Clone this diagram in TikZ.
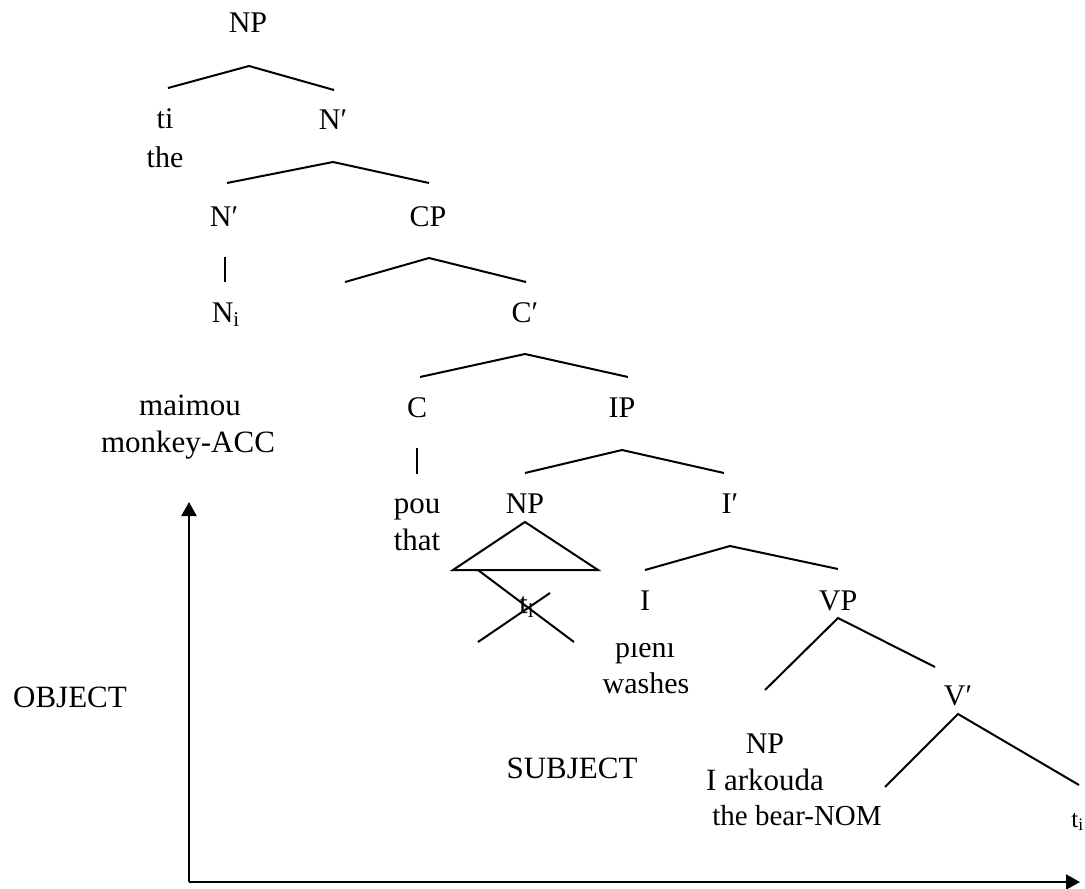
\documentclass[tikz,border=0pt]{standalone}
\usepackage{fontspec}
\setmainfont{Liberation Serif}
\usetikzlibrary{arrows.meta}
\begin{document}
\begin{tikzpicture}[x=0.5pt,y=-0.5pt,
	every node/.style={anchor=base, inner sep=0pt, font=\fontsize{15}{18}\selectfont},
	branch/.style={line width=1pt},
	axis/.style={line width=1pt, -{Triangle[length=7pt,width=7.5pt]}},
	role/.style={font=\fontsize{15.5}{18}\selectfont}]
	\useasboundingbox (0,0) rectangle (1085,888);
	
	% labels of the tree
	\node (np) at (248,33) {NP};
	\node (ti) at (165,128) {ti};
	\node (the) at (165,167) {the};
	\node (nbar1) at (333,129) {N′};
	\node (nbar2) at (224,226) {N′};
	\node (cp) at (428,226) {CP};
	\node (n) at (226,322) {N\textsubscript{i}};
	\node (cbar) at (525,322) {C′};
	\node[role] (maimou) at (190,415) {maimou};
	\node[role] (monkey) at (188,452) {monkey-ACC};
	\node (c) at (417,417) {C};
	\node (ip) at (622,417) {IP};
	\node[role] (pou) at (417,513) {pou};
	\node[role] (that) at (417,550) {that};
	\node (np2) at (525,513) {NP};
	\node (ibar) at (730,513) {I′};
	\node (trace1) at (527,613) {t\textsubscript{i}};
	\node (i) at (645,610) {I};
	\node (vp) at (838,610) {VP};
	\begin{scope}
		\clip (590,643) rectangle (710,700);
		\node (pleni) at (645,657) {pleni};
	\end{scope}
	\node (washes) at (646,693) {washes};
	\node (vbar) at (958,705) {V′};
	\node (np3) at (765,753) {NP};
	\node[role] (arkouda) at (765,790) {I arkouda};
	\node[font=\fontsize{14.5}{17}\selectfont] (bear) at (797,825) {the bear-NOM};
	\node[anchor=base west, font=\fontsize{12.5}{15}\selectfont] (trace2) at (1071,827) {t\textsubscript{i}};
	\node[role] (object) at (70,707) {OBJECT};
	\node[role] (subject) at (572,778) {SUBJECT};
	
	% branch ends
	\coordinate (np-l) at (168,88);
	\coordinate (np-t) at (249,66);
	\coordinate (np-r) at (334,90);
	\coordinate (nb1-l) at (227,183);
	\coordinate (nb1-t) at (333,162);
	\coordinate (nb1-r) at (429,183);
	\coordinate (nb2-t) at (225,257);
	\coordinate (nb2-b) at (225,282);
	\coordinate (cp-l) at (345,282);
	\coordinate (cp-t) at (429,258);
	\coordinate (cp-r) at (526,282);
	\coordinate (cb-l) at (420,377);
	\coordinate (cb-t) at (525,354);
	\coordinate (cb-r) at (628,377);
	\coordinate (c-t) at (417,448);
	\coordinate (c-b) at (417,474);
	\coordinate (ip-l) at (525,473);
	\coordinate (ip-t) at (622,450);
	\coordinate (ip-r) at (724,473);
	\coordinate (tri-t) at (525,522);
	\coordinate (tri-l) at (453,570);
	\coordinate (tri-r) at (598,570);
	\coordinate (ib-l) at (645,570);
	\coordinate (ib-t) at (730,546);
	\coordinate (ib-r) at (838,569);
	\coordinate (x1-a) at (478,570);
	\coordinate (x1-b) at (574,642);
	\coordinate (x2-a) at (478,642);
	\coordinate (x2-b) at (550,593);
	\coordinate (vp-l) at (765,690);
	\coordinate (vp-t) at (838,618);
	\coordinate (vp-r) at (935,667);
	\coordinate (vb-l) at (885,787);
	\coordinate (vb-t) at (958,714);
	\coordinate (vb-r) at (1079,785);
	\coordinate (origin) at (189,882);
	\coordinate (y-end) at (189,502);
	\coordinate (x-end) at (1080,882);
	
	% branches
	\draw[branch] (np-l) -- (np-t) -- (np-r);
	\draw[branch] (nb1-l) -- (nb1-t) -- (nb1-r);
	\draw[branch] (nb2-t) -- (nb2-b);
	\draw[branch] (cp-l) -- (cp-t) -- (cp-r);
	\draw[branch] (cb-l) -- (cb-t) -- (cb-r);
	\draw[branch] (c-t) -- (c-b);
	\draw[branch] (ip-l) -- (ip-t) -- (ip-r);
	\draw[branch] (tri-t) -- (tri-l) -- (tri-r) -- cycle;
	\draw[branch] (ib-l) -- (ib-t) -- (ib-r);
	\draw[branch] (x1-a) -- (x1-b);
	\draw[branch] (x2-a) -- (x2-b);
	\draw[branch] (vp-l) -- (vp-t) -- (vp-r);
	\draw[branch] (vb-l) -- (vb-t) -- (vb-r);
	
	% axes
	\draw[axis] (origin) -- (y-end);
	\draw[axis] (origin) -- (x-end);
\end{tikzpicture}
\end{document}
